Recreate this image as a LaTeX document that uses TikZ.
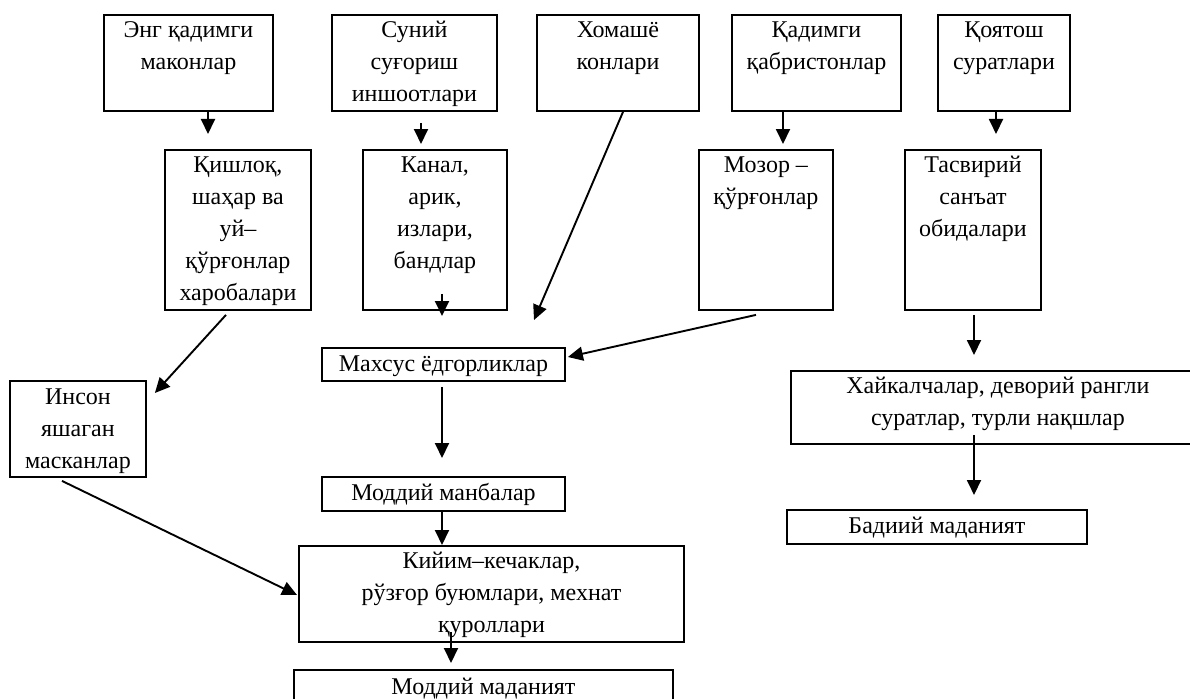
\documentclass[tikz,border=0pt]{standalone}
\usepackage{fontspec}
\setmainfont{Liberation Serif}
\usetikzlibrary{arrows.meta,calc}
\tikzset{
  box/.style={draw, line width=1.9pt, rectangle, inner sep=0pt, anchor=north west},
  txt/.style={inner sep=0pt, anchor=north, align=center, font=\fontsize{24}{32}\selectfont},
  arr/.style={line width=1.9pt, -{Triangle[length=15pt,width=14pt]}}
}
\newcommand{\tstrut}{\rule{0pt}{23pt}}
\begin{document}
\begin{tikzpicture}[x=1pt,y=-1pt]
\useasboundingbox (0,0) rectangle (1190,698);
\clip (0,0) rectangle (1190,698);
% top row
\node[box, minimum width=169pt, minimum height=96pt] (A) at (103,14) {};
\node[box, minimum width=165pt, minimum height=96pt] (B) at (331,14) {};
\node[box, minimum width=162pt, minimum height=96pt] (C) at (536,14) {};
\node[box, minimum width=169pt, minimum height=96pt] (D) at (731,14) {};
\node[box, minimum width=132pt, minimum height=96pt] (E) at (937,14) {};
% second row
\node[box, minimum width=146pt, minimum height=160pt] (F) at (164,149) {};
\node[box, minimum width=144pt, minimum height=160pt] (G) at (362,149) {};
\node[box, minimum width=134pt, minimum height=160pt] (H) at (698,149) {};
\node[box, minimum width=136pt, minimum height=160pt] (I) at (904,149) {};
% lower boxes
\node[box, minimum width=243pt, minimum height=33pt] (J) at (321,347) {};
\node[box, minimum width=136pt, minimum height=96pt] (K) at (9,380) {};
\node[box, minimum width=243pt, minimum height=34pt] (L) at (321,476) {};
\node[box, minimum width=385pt, minimum height=96pt] (M) at (298,545) {};
\node[box, minimum width=379pt, minimum height=40pt] (N) at (293,669) {};
\node[box, minimum width=414pt, minimum height=73pt] (O) at (790,370) {};
\node[box, minimum width=300pt, minimum height=34pt] (P) at (786,509) {};
% texts
\node[txt] (At) at (A.north) {\tstrut Энг қадимги\\маконлар};
\node[txt] (Bt) at (B.north) {\tstrut Суний\\суғориш\\иншоотлари};
\node[txt] (Ct) at (C.north) {\tstrut Хомашё\\конлари};
\node[txt] (Dt) at (D.north) {\tstrut Қадимги\\қабристонлар};
\node[txt] (Et) at (E.north) {\tstrut Қоятош\\суратлари};
\node[txt] (Ft) at (F.north) {\tstrut Қишлоқ,\\шаҳар ва\\уй–\\қўрғонлар\\харобалари};
\node[txt] (Gt) at (G.north) {\tstrut Канал,\\арик,\\излари,\\бандлар};
\node[txt] (Ht) at (H.north) {\tstrut Мозор –\\қўрғонлар};
\node[txt] (It) at (I.north) {\tstrut Тасвирий\\санъат\\обидалари};
\node[txt] (Jt) at (J.north) {\rule{0pt}{24pt}Махсус ёдгорликлар};
\node[txt] (Kt) at (K.north) {\rule{0pt}{24pt}Инсон\\яшаган\\масканлар};
\node[txt] (Lt) at (L.north) {\rule{0pt}{24pt}Моддий манбалар};
\node[txt] (Mt) at (M.north) {\tstrut Кийим–кечаклар,\\рўзғор буюмлари, мехнат\\қуроллари};
\node[txt] (Nt) at (N.north) {\rule{0pt}{25pt}Моддий маданият};
\node[txt] (Ot) at (O.north) {\tstrut Хайкалчалар, деворий рангли\\суратлар, турли нақшлар};
\node[txt] (Pt) at (P.north) {\rule{0pt}{24pt}Бадиий маданият};
% connectors
\draw[arr] ($(A.south west)+(105,0)$) -- ($(F.north west)+(44,-15)$);
\draw[arr] ($(B.south west)+(90,11)$) -- ($(G.north west)+(59,-5)$);
\draw[arr] ($(G.south west)+(80,-17)$) -- ($(J.north west)+(121,-31)$);
\draw[arr] ($(C.south west)+(87,0)$) -- ($(J.north west)+(213,-27)$);
\draw[arr] ($(D.south west)+(52,0)$) -- ($(H.north west)+(85,-5)$);
\draw[arr] ($(E.south west)+(59,0)$) -- ($(I.north west)+(92,-15)$);
\draw[arr] ($(H.south west)+(58,4)$) -- ($(J.north east)+(2,10)$);
\draw[arr] ($(I.south west)+(70,4)$) -- ($(O.north west)+(184,-15)$);
\draw[arr] ($(F.south west)+(62,4)$) -- ($(K.north east)+(8,13)$);
\draw[arr] ($(J.south west)+(121,5)$) -- ($(L.north west)+(121,-18)$);
\draw[arr] ($(L.south west)+(121,0)$) -- ($(M.north west)+(144,0)$);
\draw[arr] ($(K.south west)+(53,3)$) -- ($(M.north west)+(-1,50)$);
\draw[arr] ($(M.south west)+(153,-11)$) -- ($(N.north west)+(158,-6)$);
\draw[arr] ($(O.south west)+(184,-10)$) -- ($(P.north west)+(188,-14)$);
\end{tikzpicture}
\end{document}
